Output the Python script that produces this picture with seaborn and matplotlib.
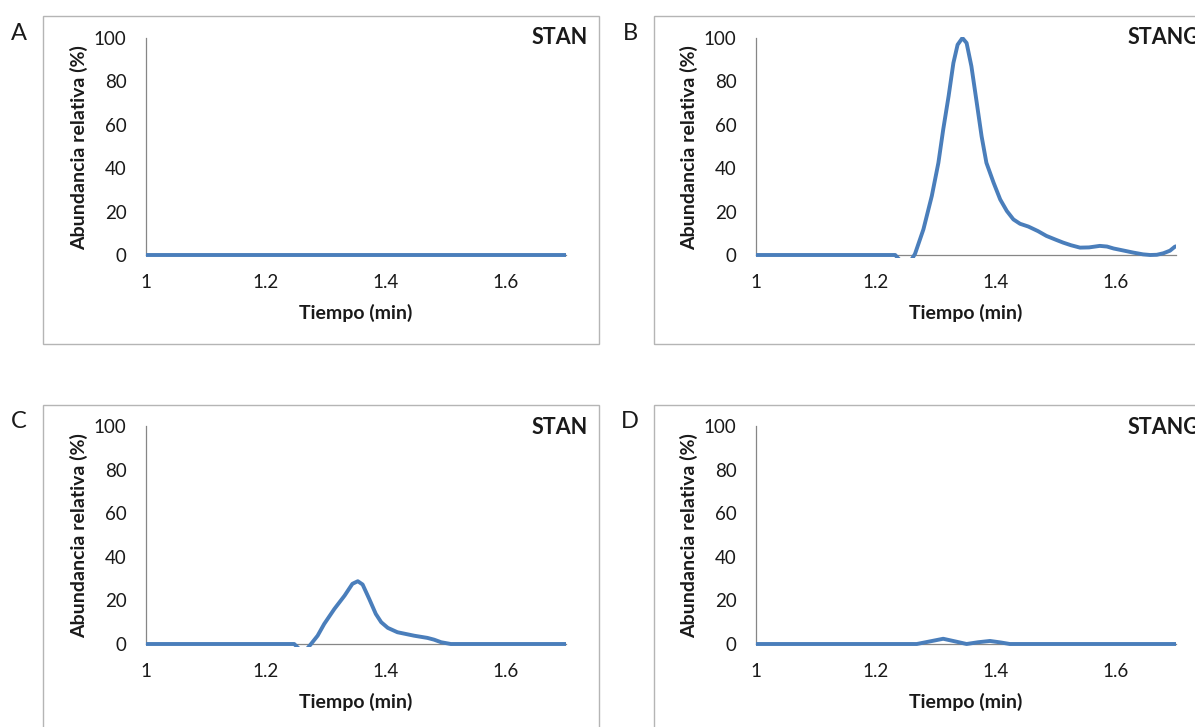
import matplotlib
matplotlib.use("Agg")
import matplotlib.pyplot as plt
import seaborn as sns
import pandas as pd
from matplotlib.patches import Rectangle

sns.set_style("white")
plt.rcParams['font.family'] = ['Lato', 'DejaVu Sans']

# chromatogram traces (x in min, y in % relative abundance)
time_a = [1.00, 1.10, 1.20, 1.30, 1.40, 1.50, 1.60, 1.70]
abund_a = [0, 0, 0, 0, 0, 0, 0, 0]

time_b = [1.00, 1.10, 1.20, 1.232, 1.245, 1.255, 1.265, 1.279, 1.293, 1.304, 1.312,
          1.321, 1.329, 1.336, 1.344, 1.351, 1.359, 1.368, 1.376, 1.384, 1.396,
          1.407, 1.418, 1.429, 1.440, 1.454, 1.470, 1.484, 1.500, 1.512, 1.525,
          1.540, 1.555, 1.573, 1.585, 1.596, 1.610, 1.629, 1.645, 1.657, 1.668,
          1.679, 1.690, 1.698, 1.700]
abund_b = [0, 0, 0, 0, -4, -4, 0.5, 11.8, 27.2, 42.5, 57.8,
           73.2, 88.5, 96.9, 100, 97.7, 87.0, 70.0, 54.7, 42.5, 33.3,
           25.6, 20.3, 16.4, 14.4, 13.1, 11.0, 8.8, 7.0, 5.7, 4.5,
           3.4, 3.5, 4.2, 3.9, 3.0, 2.2, 1.1, 0.3, 0, 0.1,
           0.8, 2.0, 3.8, 4.0]

time_c = [1.00, 1.10, 1.20, 1.247, 1.258, 1.266, 1.275, 1.286, 1.297, 1.314, 1.331,
          1.344, 1.353, 1.361, 1.372, 1.383, 1.392, 1.403, 1.419, 1.447, 1.469,
          1.480, 1.492, 1.508, 1.55, 1.60, 1.65, 1.70]
abund_c = [0, 0, 0, 0, -3, -3, 0, 3.8, 9.2, 16.1, 22.2,
           27.6, 28.8, 27.3, 20.7, 13.8, 10.0, 7.4, 5.4, 3.8, 2.8,
           2.0, 0.8, 0, 0, 0, 0, 0]

time_d = [1.00, 1.10, 1.20, 1.268, 1.290, 1.312, 1.335, 1.351, 1.370, 1.390, 1.408,
          1.423, 1.50, 1.60, 1.70]
abund_d = [0, 0, 0, 0, 1.2, 2.4, 1.0, 0, 0.8, 1.4, 0.7,
           0, 0, 0, 0]

panel_letters = ['A', 'B', 'C', 'D']
panel_titles = ['STAN', 'STANG', 'STAN', 'STANG']
x_ticks = [1, 1.2, 1.4, 1.6]
x_tick_labels = ['1', '1.2', '1.4', '1.6']
y_ticks = [0, 20, 40, 60, 80, 100]

W, H = 1195, 727
fig = plt.figure(figsize=(W / 100, H / 100), dpi=100)
fig.patch.set_facecolor('white')

blue = '#4a7ebb'
axis_grey = '#868686'
box_grey = '#b5b5b5'
text_col = '#1a1a1a'

# pixel layout of each chart: (box left, box top, axis x0 px, axis x1 px, y100 px, y0 px)
layout = [
    (43, 16, 146, 566, 38, 255),
    (654, 16, 756, 1176, 38, 255),
    (43, 405, 146, 566, 426, 644),
    (654, 405, 756, 1176, 426, 644),
]
series = [(time_a, abund_a), (time_b, abund_b), (time_c, abund_c), (time_d, abund_d)]
box_w, box_h = 556, 328

ymin, ymax = -1.2, 100.6
for i, (bx, by, x0, x1, y100, y0) in enumerate(layout):
    # chart area border
    fig.patches.append(Rectangle((bx / W, 1 - (by + box_h) / H), box_w / W, box_h / H,
                                 transform=fig.transFigure, fill=False,
                                 edgecolor=box_grey, linewidth=1.0))
    ppu = (y0 - y100) / 100.0
    bottom_px = y0 - ymin * ppu
    top_px = y100 - (ymax - 100) * ppu
    ax = fig.add_axes([x0 / W, 1 - bottom_px / H, (x1 - x0) / W, (bottom_px - top_px) / H])
    ax.patch.set_alpha(0)

    df = pd.DataFrame({'t': series[i][0], 'a': series[i][1]})
    sns.lineplot(data=df, x='t', y='a', ax=ax, color=blue, linewidth=2.8,
                 estimator=None, sort=False)
    ax.lines[0].set_solid_joinstyle('round')
    ax.lines[0].set_zorder(3)

    ax.set_xlim(1, 1.7)
    ax.set_ylim(ymin, ymax)
    for s in ['top', 'right']:
        ax.spines[s].set_visible(False)
    ax.spines['left'].set_bounds(0, 100)
    ax.spines['bottom'].set_position(('data', 0))
    for s in ['left', 'bottom']:
        ax.spines[s].set_color(axis_grey)
        ax.spines[s].set_linewidth(0.9)
        ax.spines[s].set_zorder(1)

    ax.set_xticks(x_ticks)
    ax.set_xticklabels(x_tick_labels)
    ax.set_yticks(y_ticks)
    ax.tick_params(axis='x', direction='out', length=5, width=0.9, color=axis_grey,
                   labelsize=13.5, pad=9, labelcolor=text_col)
    ax.tick_params(axis='y', direction='out', length=5, width=0.9, color=axis_grey,
                   labelsize=13.5, pad=9, labelcolor=text_col)

    ax.set_xlabel('Tiempo (min)', fontsize=14, fontweight='bold', labelpad=9, color=text_col)
    ax.set_ylabel('Abundancia relativa (%)', fontsize=14, fontweight='bold', labelpad=4,
                  color=text_col)

    # panel letter and sample name
    fig.text((bx - 24) / W, 1 - (by + 17) / H, panel_letters[i], fontsize=17,
             ha='center', va='center', color=text_col)
    fig.text((bx + box_w - 11) / W, 1 - (by + 22) / H, panel_titles[i], fontsize=15.5,
             fontweight='bold', ha='right', va='center', color=text_col)

fig.savefig('out.png', dpi=100)
